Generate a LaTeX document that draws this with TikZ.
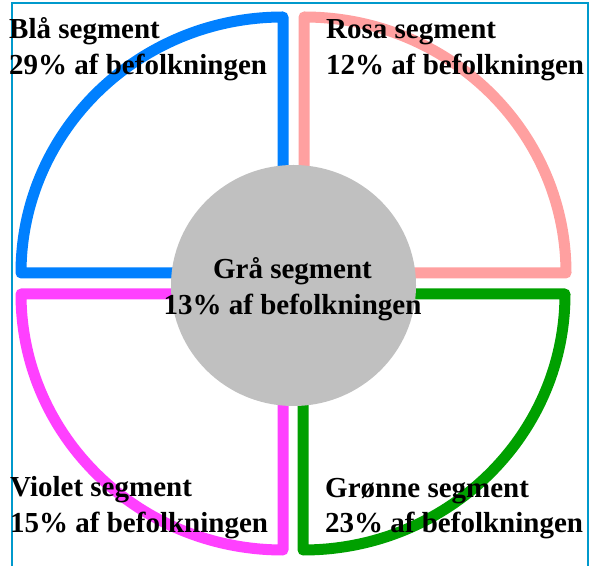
\documentclass[tikz,border=0pt]{standalone}
\usepackage{fontspec}
\setmainfont{Liberation Serif}
\definecolor{segblue}{RGB}{0,128,255}
\definecolor{segpink}{RGB}{255,160,160}
\definecolor{seggreen}{RGB}{0,160,0}
\definecolor{segviolet}{RGB}{255,64,255}
\definecolor{seggray}{RGB}{192,192,192}
\definecolor{frameblue}{RGB}{0,153,204}
\tikzset{
  sector/.style={line width=11pt, line join=round},
  lbl/.style={inner sep=0pt, align=left, font=\bfseries\fontsize{29}{36}\selectfont},
}
\begin{document}
\begin{tikzpicture}[x=1pt,y=1pt]
\useasboundingbox (0,0) rectangle (589,565);
\draw[frameblue, line width=2pt] (11.5,-10) -- (11.5,561.5) -- (587.5,561.5) -- (587.5,-10);
% sectors
\draw[sector, segblue] (283,292) -- (283,548) arc[start angle=90,end angle=180,x radius=262,y radius=256] -- cycle;
\draw[sector, segpink] (304,292) -- (566,292) arc[start angle=0,end angle=90,x radius=262,y radius=256] -- cycle;
\draw[sector, segviolet] (283,271) -- (21,271) arc[start angle=180,end angle=270,x radius=262,y radius=256] -- cycle;
\draw[sector, seggreen] (303,271) -- (303,15) arc[start angle=270,end angle=360,x radius=262,y radius=256] -- cycle;
% centre
\fill[seggray] (293.5,279.5) ellipse[x radius=122.5, y radius=120.5];
% labels (base anchor = baseline of last line)
\node[lbl, anchor=base west] (blue) at (9,490) {Blå segment\\29\% af befolkningen};
\node[lbl, anchor=base west] (pink) at (326,490) {Rosa segment\\12\% af befolkningen};
\node[lbl, anchor=base west] (violet) at (10,32.3) {Violet segment\\15\% af befolkningen};
\node[lbl, anchor=base west] (green) at (325,32) {Grønne segment\\23\% af befolkningen};
\node[lbl, align=center, anchor=base] (gray) at (292.5,250) {Grå segment\\13\% af befolkningen};
\end{tikzpicture}
\end{document}
